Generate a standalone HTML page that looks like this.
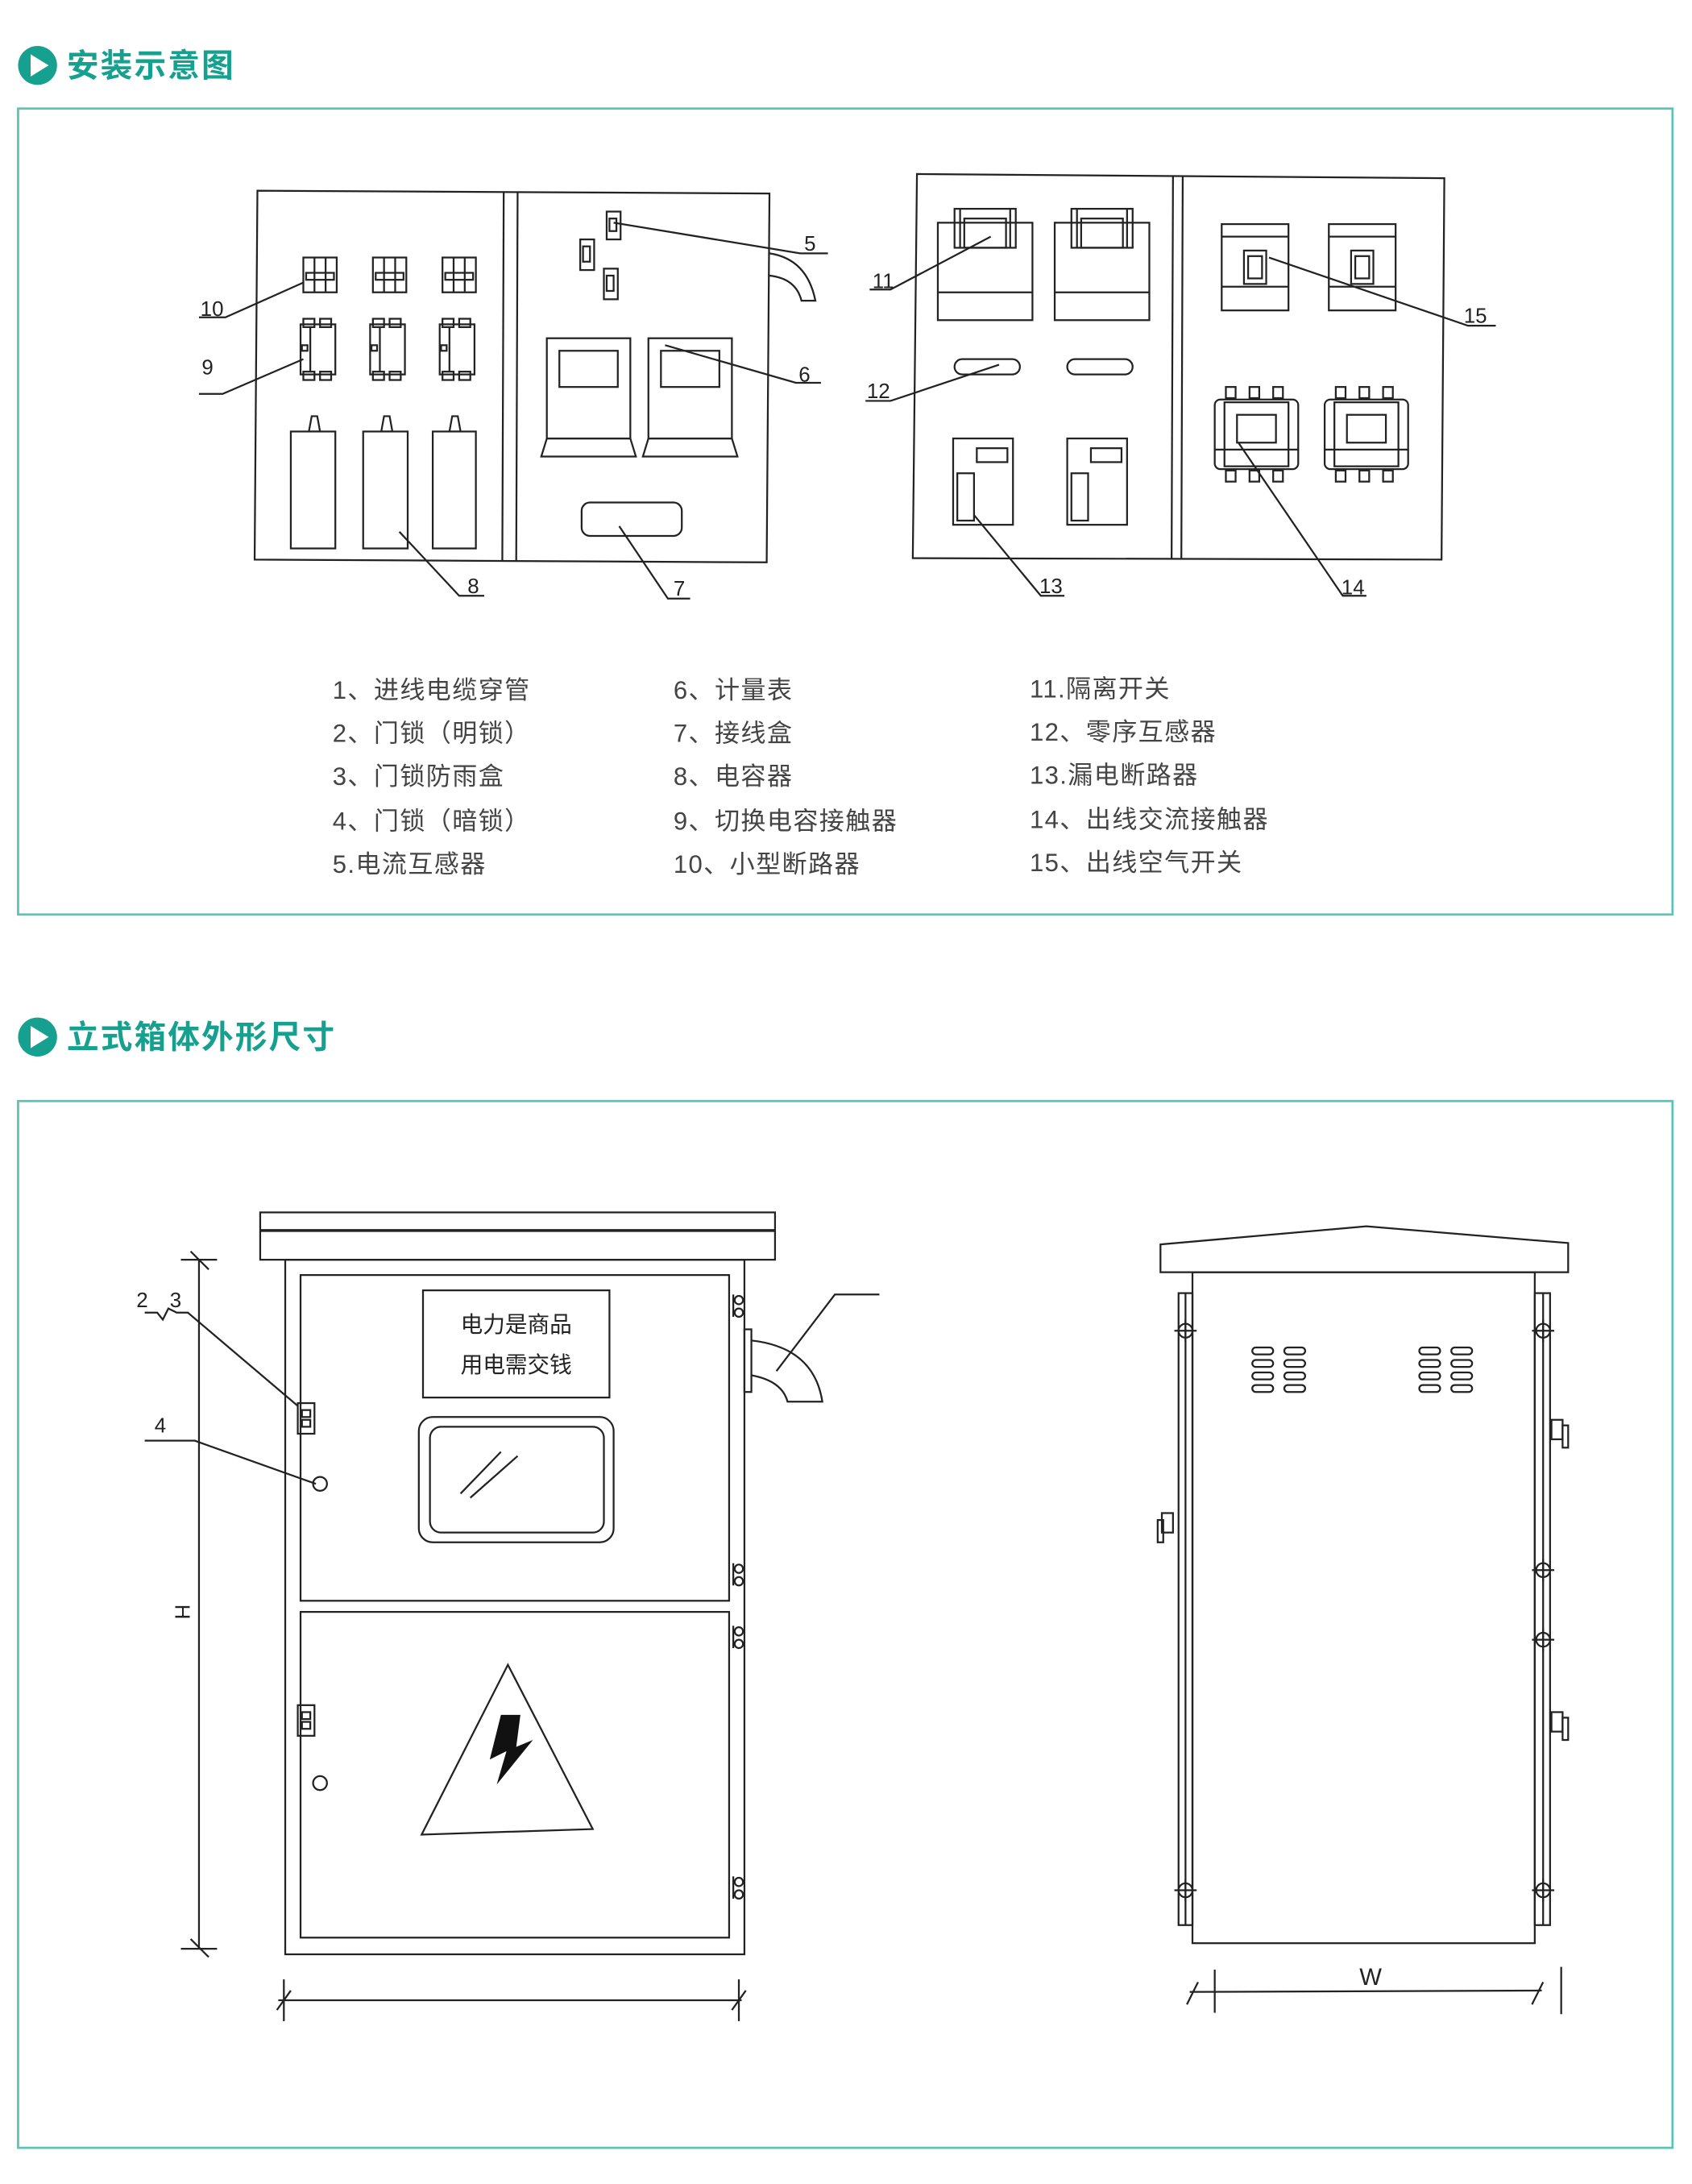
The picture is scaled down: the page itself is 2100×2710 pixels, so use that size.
<!DOCTYPE html>
<html><head><meta charset="utf-8"><style>
html,body{margin:0;padding:0;background:#fff;}
svg{display:block;}
text{font-family:"Liberation Sans","Noto Sans CJK SC",sans-serif;}
</style></head><body>
<svg width="2100" height="2710" viewBox="0 0 1216 1569" preserveAspectRatio="none" xmlns="http://www.w3.org/2000/svg">
<rect width="1216" height="1569" fill="#fff"/>
<!-- headers -->
<circle cx="27" cy="47" r="14" fill="#16a08f"/>
<polygon points="22,39 22,55 35,47" fill="#fff"/>
<text x="48" y="55" font-size="23" font-weight="bold" fill="#16a08f" letter-spacing="1.2">安装示意图</text>
<rect x="13" y="78" width="1189" height="579" fill="none" stroke="#5cc3b6" stroke-width="1.6"/>
<circle cx="27" cy="745" r="14" fill="#16a08f"/>
<polygon points="22,737 22,753 35,745" fill="#fff"/>
<text x="48" y="753" font-size="23" font-weight="bold" fill="#16a08f" letter-spacing="1.2">立式箱体外形尺寸</text>
<rect x="13" y="791" width="1189" height="752" fill="none" stroke="#5cc3b6" stroke-width="1.6"/>

<g fill="none" stroke="#222" stroke-width="1.3">
<!-- left panel -->
<polygon points="185,137 553,139 551,404 183,402"/>
<line x1="362" y1="138" x2="361" y2="403"/><line x1="372" y1="138" x2="371" y2="403"/>
<g id="m"><rect x="218" y="185" width="24" height="25"/><line x1="226" y1="185" x2="226" y2="210"/><line x1="234" y1="185" x2="234" y2="210"/><rect x="220" y="196" width="20" height="5"/></g>
<use href="#m" x="50"/><use href="#m" x="100"/>
<g id="c"><rect x="216" y="233" width="25" height="36"/><rect x="218" y="229" width="8" height="6"/><rect x="230" y="229" width="8" height="6"/><rect x="218" y="267" width="8" height="6"/><rect x="230" y="267" width="8" height="6"/><line x1="223" y1="235" x2="223" y2="267"/><rect x="217" y="248" width="4" height="4"/></g>
<use href="#c" x="50"/><use href="#c" x="100"/>
<rect x="209" y="310" width="32" height="84"/><polygon points="222,310 224,299 228,299 230,310"/>
<rect x="261" y="310" width="32" height="84"/><polygon points="274,310 276,299 280,299 282,310"/>
<rect x="311" y="310" width="31" height="84"/><polygon points="323,310 325,299 329,299 331,310"/>
<rect x="436" y="152" width="10" height="20"/><rect x="438" y="157" width="5" height="9"/>
<rect x="417" y="172" width="10" height="22"/><rect x="419" y="177" width="5" height="11"/>
<rect x="434" y="193" width="10" height="22"/><rect x="436" y="198" width="5" height="11"/>
<path d="M553,182 Q580,186 586,216 L576,216 Q572,200 553,198"/>
<g id="mt"><rect x="393" y="243" width="60" height="72"/><rect x="402" y="252" width="42" height="26"/><polygon points="393,315 453,315 457,328 389,328"/></g>
<use href="#mt" x="73"/>
<rect x="418" y="361" width="72" height="24" rx="6"/>
<!-- right panel -->
<polygon points="659,125 1038,128 1036,402 656,401"/>
<line x1="843" y1="127" x2="842" y2="402"/><line x1="850" y1="127" x2="849" y2="402"/>
<g id="iso"><rect x="674" y="160" width="68" height="70"/><line x1="674" y1="210" x2="742" y2="210"/><rect x="686" y="150" width="44" height="28"/><line x1="690" y1="150" x2="690" y2="178"/><line x1="726" y1="150" x2="726" y2="178"/><rect x="693" y="157" width="30" height="21"/></g>
<use href="#iso" x="84"/>
<rect x="686" y="258" width="47" height="11" rx="5.5"/><rect x="767" y="258" width="47" height="11" rx="5.5"/>
<g id="rcd"><rect x="685" y="315" width="43" height="62"/><rect x="702" y="322" width="22" height="10"/><rect x="688" y="340" width="12" height="34"/></g>
<use href="#rcd" x="82"/>
<g id="air"><rect x="878" y="161" width="48" height="62"/><line x1="878" y1="170" x2="926" y2="170"/><line x1="878" y1="206" x2="926" y2="206"/><rect x="894" y="180" width="16" height="24"/><rect x="897" y="184" width="10" height="16"/></g>
<use href="#air" x="77"/>
<g id="ac"><rect x="873" y="287" width="60" height="50" rx="4"/><rect x="880" y="289" width="46" height="46"/><rect x="889" y="298" width="28" height="20"/><line x1="873" y1="323" x2="933" y2="323"/>
<rect x="881" y="278" width="7" height="8"/><rect x="898" y="278" width="7" height="8"/><rect x="915" y="278" width="7" height="8"/>
<rect x="881" y="338" width="7" height="8"/><rect x="898" y="338" width="7" height="8"/><rect x="915" y="338" width="7" height="8"/></g>
<use href="#ac" x="79"/>
<polyline points="143,228 162,228 218,203"/><polyline points="143,283 160,283 218,258"/>
<polyline points="287,382 330,428 348,428"/>
<polyline points="441,160 575,182 595,182"/>
<polyline points="478,248 572,275 590,275"/>
<polyline points="445,378 480,430 496,430"/>
<polyline points="625,208 640,208 712,170"/>
<polyline points="622,288 640,288 718,262"/>
<polyline points="700,370 748,428 765,428"/>
<polyline points="912,185 1055,234 1075,234"/>
<polyline points="890,318 965,428 982,428"/>
</g>
<g font-size="15" fill="#222">
<text x="144" y="227">10</text><text x="145" y="269">9</text><text x="336" y="426">8</text>
<text x="578" y="180">5</text><text x="574" y="274">6</text><text x="484" y="428">7</text>
<text x="627" y="207">11</text><text x="623" y="286">12</text><text x="747" y="426">13</text>
<text x="1052" y="232">15</text><text x="964" y="427">14</text>
</g>
<g font-size="18" fill="#444" letter-spacing="0.8">
<text x="239" y="502">1、进线电缆穿管</text><text x="239" y="533">2、门锁（明锁）</text><text x="239" y="564">3、门锁防雨盒</text><text x="239" y="596">4、门锁（暗锁）</text><text x="239" y="627">5.电流互感器</text>
<text x="484" y="502">6、计量表</text><text x="484" y="533">7、接线盒</text><text x="484" y="564">8、电容器</text><text x="484" y="596">9、切换电容接触器</text><text x="484" y="627">10、小型断路器</text>
<text x="740" y="501">11.隔离开关</text><text x="740" y="532">12、零序互感器</text><text x="740" y="563">13.漏电断路器</text><text x="740" y="595">14、出线交流接触器</text><text x="740" y="626">15、出线空气开关</text>
</g>

<!-- front cabinet -->
<g fill="none" stroke="#222" stroke-width="1.3">
<rect x="187" y="871" width="370" height="34"/><line x1="187" y1="884" x2="557" y2="884" stroke-width="2"/>
<rect x="205" y="905" width="330" height="499"/>
<rect x="216" y="916" width="308" height="234"/><rect x="216" y="1158" width="308" height="234"/>
<rect x="304" y="927" width="134" height="77"/>
<rect x="301" y="1018" width="140" height="90" rx="10"/><rect x="309" y="1025" width="125" height="76" rx="8"/>
<line x1="331" y1="1073" x2="360" y2="1043"/><line x1="338" y1="1076" x2="372" y2="1046"/>
<rect x="214" y="1008" width="12" height="22"/><rect x="217" y="1013" width="6" height="5"/><rect x="217" y="1020" width="6" height="5"/>
<rect x="214" y="1225" width="12" height="22"/><rect x="217" y="1230" width="6" height="5"/><rect x="217" y="1237" width="6" height="5"/>
<circle cx="230" cy="1066" r="5"/><circle cx="230" cy="1281" r="5"/>
<g id="hg"><circle cx="531" cy="934" r="3"/><circle cx="531" cy="943" r="3"/><line x1="527" y1="930" x2="527" y2="946"/></g>
<use href="#hg" y="193"/><use href="#hg" y="238"/><use href="#hg" y="418"/>
<polygon points="365,1196 303,1318 426,1314"/>
<rect x="535" y="955" width="5" height="45"/>
<path d="M540,963 Q585,968 591,1007 L566,1007 Q562,992 540,988"/>
<polyline points="558,985 600,930 632,930"/>
<line x1="143" y1="905" x2="143" y2="1400"/><line x1="130" y1="905" x2="156" y2="905"/><line x1="130" y1="1400" x2="156" y2="1400"/>
<line x1="137" y1="899" x2="150" y2="912"/><line x1="137" y1="1393" x2="150" y2="1406"/>
<line x1="200" y1="1437" x2="533" y2="1437"/><line x1="204" y1="1422" x2="204" y2="1452"/><line x1="531" y1="1422" x2="531" y2="1452"/>
<line x1="199" y1="1444" x2="209" y2="1430"/><line x1="526" y1="1444" x2="536" y2="1430"/>
<polyline points="104,943 113,943 117,948 121,940 127,943 135,943 214,1010"/>
<polyline points="104,1035 140,1035 227,1066"/>
</g>
<polygon points="360,1232 352,1264 364,1258 357,1282 383,1250 371,1255 374,1232" fill="#111"/>
<g font-size="16" fill="#222"><text x="371" y="957" text-anchor="middle">电力是商品</text><text x="371" y="986" text-anchor="middle">用电需交钱</text></g>
<g font-size="15" fill="#222"><text x="98" y="939">2</text><text x="122" y="939">3</text><text x="111" y="1029">4</text>
<text x="0" y="0" transform="translate(126,1158) rotate(90)" text-anchor="middle">H</text>
<text x="985" y="1426" text-anchor="middle" font-size="17">W</text></g>

<!-- side cabinet -->
<g fill="none" stroke="#222" stroke-width="1.3">
<polygon points="834,894 982,881 1127,893 1127,914 834,914"/>
<rect x="857" y="914" width="246" height="482"/>
<rect x="847" y="929" width="10" height="454"/><rect x="1103" y="929" width="11" height="454"/>
<line x1="852" y1="929" x2="852" y2="1383"/><line x1="1109" y1="929" x2="1109" y2="1383"/>
<g id="hc"><circle cx="852" cy="956" r="5"/><line x1="844" y1="956" x2="860" y2="956"/><line x1="852" y1="948" x2="852" y2="964"/></g>
<use href="#hc" y="402"/><use href="#hc" x="257"/><use href="#hc" x="257" y="172"/><use href="#hc" x="257" y="222"/><use href="#hc" x="257" y="402"/>
<g id="lk"><rect x="1115" y="1020" width="8" height="14"/><rect x="1123" y="1024" width="4" height="16"/></g>
<use href="#lk" y="210"/>
<rect x="835" y="1087" width="8" height="14"/><rect x="832" y="1092" width="4" height="16"/>
<g id="vt"><g id="vr"><rect x="900" y="968" width="15" height="5" rx="2.5"/><rect x="923" y="968" width="15" height="5" rx="2.5"/></g>
<use href="#vr" y="9"/><use href="#vr" y="18"/><use href="#vr" y="27"/></g>
<use href="#vt" x="120"/>
<line x1="855" y1="1431" x2="1108" y2="1430"/><line x1="873" y1="1415" x2="873" y2="1446"/><line x1="1122" y1="1413" x2="1122" y2="1447"/>
<line x1="853" y1="1440" x2="861" y2="1424"/><line x1="1101" y1="1440" x2="1109" y2="1424"/>
</g>
</svg>
</body></html>
